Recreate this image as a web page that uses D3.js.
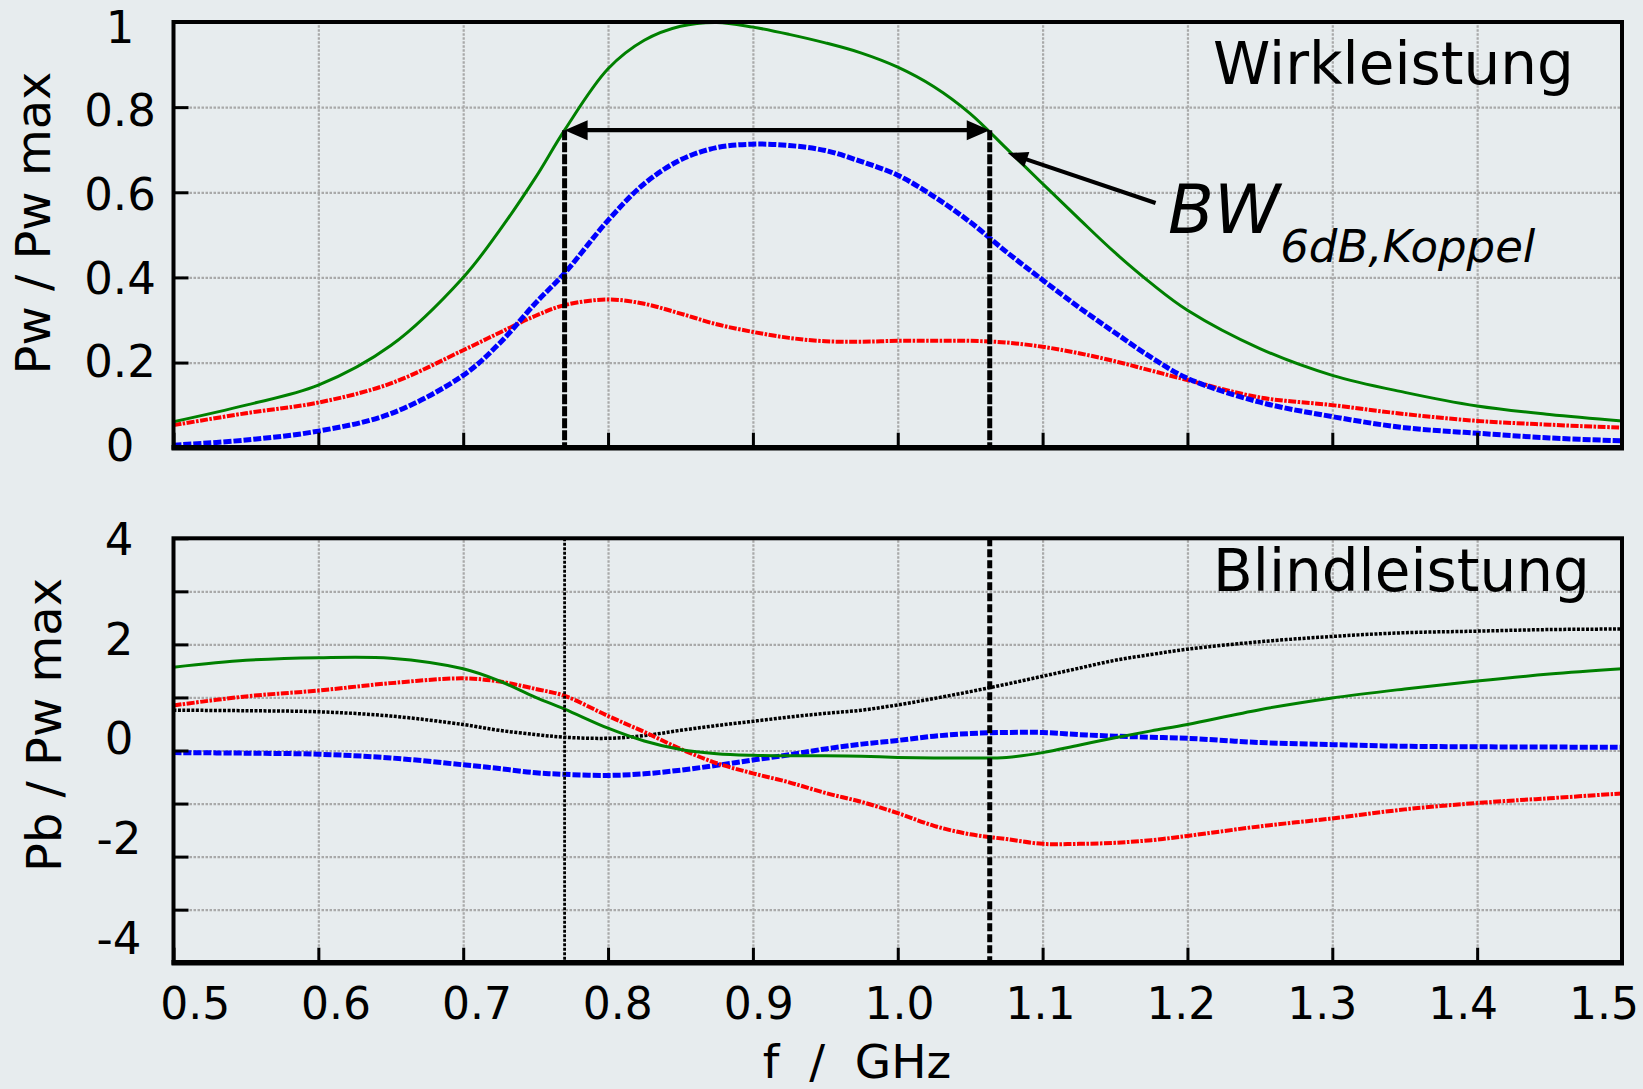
<!DOCTYPE html>
<html><head><meta charset="utf-8">
<script src="https://cdn.jsdelivr.net/npm/d3@7/dist/d3.min.js"></script>
<style>
body{margin:0;background:#e7ecee}
svg{display:block}
text{font-family:"DejaVu Sans",Verdana,sans-serif;fill:#000}
</style></head>
<body><svg id="chart" width="1643" height="1089"></svg>
<script>
// ---------- data ----------
const freq = [0.50,0.55,0.60,0.65,0.70,0.725,0.75,0.77,0.80,0.825,0.85,0.875,0.90,0.925,0.95,0.975,1.00,1.025,1.05,1.075,1.10,1.125,1.15,1.175,1.20,1.25,1.30,1.35,1.40,1.45,1.50];

const pwGreen = [0.061,0.10,0.147,0.24,0.40,0.51,0.635,0.746,0.89,0.957,0.99,0.999,0.988,0.971,0.951,0.927,0.894,0.848,0.785,0.703,0.62,0.538,0.458,0.386,0.323,0.233,0.17,0.13,0.098,0.078,0.063];
const pwBlue  = [0.006,0.018,0.039,0.08,0.17,0.245,0.34,0.41,0.534,0.62,0.676,0.705,0.713,0.71,0.698,0.672,0.64,0.59,0.53,0.46,0.394,0.33,0.27,0.212,0.163,0.107,0.073,0.047,0.034,0.023,0.016];
const pwRed   = [0.053,0.081,0.106,0.151,0.229,0.27,0.31,0.335,0.348,0.338,0.315,0.29,0.272,0.258,0.25,0.249,0.251,0.251,0.251,0.247,0.237,0.222,0.203,0.181,0.159,0.118,0.10,0.079,0.063,0.054,0.047];

const pbGreen = [1.57,1.70,1.75,1.74,1.54,1.31,1.00,0.78,0.42,0.18,0.02,-0.06,-0.09,-0.10,-0.10,-0.11,-0.13,-0.14,-0.14,-0.13,-0.04,0.10,0.24,0.37,0.49,0.77,0.99,1.16,1.31,1.44,1.54];
const pbRed   = [0.85,1.02,1.13,1.27,1.36,1.30,1.16,1.03,0.65,0.35,0.03,-0.24,-0.43,-0.60,-0.80,-0.97,-1.18,-1.42,-1.58,-1.67,-1.76,-1.76,-1.74,-1.69,-1.61,-1.43,-1.28,-1.11,-0.99,-0.90,-0.81];
const pbBlack = [0.76,0.75,0.73,0.65,0.49,0.38,0.30,0.25,0.23,0.28,0.38,0.47,0.55,0.63,0.70,0.76,0.86,0.98,1.11,1.25,1.40,1.55,1.70,1.81,1.91,2.05,2.15,2.22,2.25,2.28,2.29];
const pbBlue  = [-0.04,-0.05,-0.07,-0.14,-0.27,-0.34,-0.42,-0.45,-0.47,-0.44,-0.37,-0.28,-0.18,-0.08,0.03,0.12,0.19,0.27,0.32,0.34,0.34,0.30,0.27,0.25,0.23,0.15,0.11,0.08,0.07,0.065,0.06];

const xTickValues = [0.5,0.6,0.7,0.8,0.9,1.0,1.1,1.2,1.3,1.4,1.5];
const pwTickValues = [0,0.2,0.4,0.6,0.8,1];
const pbTickValues = [-4,-3,-2,-1,0,1,2,3,4];
const pbLabelValues = [-4,-2,0,2,4];

const bwEdges = [0.770, 1.0635];   // 6 dB band edges, GHz
const bwLevel = 0.746;              // Pw level of the band arrow
const annotTip = [1.076, 0.692];
const annotTail = [1.178, 0.575];

const titleTop = "Wirkleistung";
const titleBottom = "Blindleistung";
const yTitleTop = "Pw / Pw max";
const yTitleBottom = "Pb / Pw max";
const xTitle = "f  /  GHz";

// ---------- layout ----------
const svg = d3.select("#chart");
const L = 173.5, R = 1622;
const topP = {t:22, b:447.7};
const botP = {t:538.3, b:962.7};

const x = d3.scaleLinear().domain([0.5,1.5]).range([L,R]);
const xLab = d3.scaleLinear().domain([0.5,1.5]).range([194.7,1603.5]);
const yW = d3.scaleLinear().domain([0,1]).range([topP.b, topP.t]);
const yWLab = d3.scaleLinear().domain([0,1]).range([444,26]);
const yB = d3.scaleLinear().domain([-4,4]).range([botP.b, botP.t]);
const yBLab = d3.scaleLinear().domain([-4,4]).range([937,538.5]);

const gridColor = "#a9a9a9";

function panel(y, yTicks, top, bot) {
  const g = svg.append("g");
  g.append("g").attr("transform",`translate(0,${bot})`)
    .call(d3.axisBottom(x).tickValues(xTickValues.slice(1,-1)).tickSize(-(bot-top)).tickFormat(""))
    .call(s=>s.select(".domain").remove())
    .selectAll("line").attr("stroke",gridColor).attr("stroke-width",2.2).attr("stroke-dasharray","2.5,1.5");
  g.append("g").attr("transform",`translate(${L},0)`)
    .call(d3.axisLeft(y).tickValues(yTicks.slice(1,-1)).tickSize(-(R-L)).tickFormat(""))
    .call(s=>s.select(".domain").remove())
    .selectAll("line").attr("stroke",gridColor).attr("stroke-width",2.2).attr("stroke-dasharray","2.5,1.5");
  return g;
}
function frame(y, yTicks, top, bot) {
  const g = svg.append("g");
  g.append("g").attr("transform",`translate(0,${bot})`)
    .call(d3.axisBottom(x).tickValues(xTickValues).tickSize(-15).tickFormat(""))
    .call(s=>s.select(".domain").remove())
    .selectAll("line").attr("stroke","#000").attr("stroke-width",3);
  g.append("g").attr("transform",`translate(${L},0)`)
    .call(d3.axisLeft(y).tickValues(yTicks).tickSize(-15).tickFormat(""))
    .call(s=>s.select(".domain").remove())
    .selectAll("line").attr("stroke","#000").attr("stroke-width",3);
  g.append("rect").attr("x",L).attr("y",top).attr("width",R-L).attr("height",bot-top)
    .attr("fill","none").attr("stroke","#000").attr("stroke-width",4);
  g.append("line").attr("x1",L-2).attr("x2",R+2).attr("y1",bot).attr("y2",bot)
    .attr("stroke","#000").attr("stroke-width",5.5);
}

function curve(y, vals, color, width, dash) {
  const line = d3.line().x((d,i)=>x(freq[i])).y(d=>y(d)).curve(d3.curveCatmullRom.alpha(0.5));
  svg.append("path").datum(vals).attr("d",line).attr("fill","none")
    .attr("stroke",color).attr("stroke-width",width)
    .attr("stroke-dasharray",dash||null).attr("stroke-linejoin","round");
}

// ---------- top panel ----------
panel(yW, pwTickValues, topP.t, topP.b);
curve(yW, pwRed, "#ff0000", 4, "8,1.5,2.5,1.5");
curve(yW, pwBlue, "#0000ff", 5, "8,2");
curve(yW, pwGreen, "#008000", 3, null);

bwEdges.forEach(f=>{
  svg.append("line").attr("x1",x(f)).attr("x2",x(f)).attr("y1",yW(bwLevel)).attr("y2",yW(0))
    .attr("stroke","#000").attr("stroke-width",5).attr("stroke-dasharray","10,2");
});
(function(){
  const yv = yW(bwLevel), x0 = x(bwEdges[0]), x1 = x(bwEdges[1]);
  const hl = 23, hw = 10;
  svg.append("line").attr("x1",x0+hl-2).attr("x2",x1-hl+2).attr("y1",yv).attr("y2",yv)
    .attr("stroke","#000").attr("stroke-width",4.2);
  svg.append("path").attr("d",`M${x0},${yv}L${x0+hl},${yv-hw}L${x0+hl},${yv+hw}Z`).attr("fill","#000");
  svg.append("path").attr("d",`M${x1},${yv}L${x1-hl},${yv-hw}L${x1-hl},${yv+hw}Z`).attr("fill","#000");
})();
(function(){
  const tx = x(annotTip[0]), ty = yW(annotTip[1]);
  const sx = x(annotTail[0]), sy = yW(annotTail[1]);
  const ang = Math.atan2(ty-sy, tx-sx);
  const hl = 20, hw = 8;
  const bx = tx - hl*Math.cos(ang), by = ty - hl*Math.sin(ang);
  const px = -Math.sin(ang)*hw, py = Math.cos(ang)*hw;
  svg.append("line").attr("x1",sx).attr("y1",sy).attr("x2",bx+2*Math.cos(ang)).attr("y2",by+2*Math.sin(ang))
    .attr("stroke","#000").attr("stroke-width",4.2);
  svg.append("path").attr("d",`M${tx},${ty}L${bx+px},${by+py}L${bx-px},${by-py}Z`).attr("fill","#000");
})();
frame(yW, pwTickValues, topP.t, topP.b);

// ---------- bottom panel ----------
panel(yB, pbTickValues, botP.t, botP.b);
curve(yB, pbBlack, "#000000", 3.5, "3,1.5");
curve(yB, pbBlue, "#0000ff", 5, "8,2");
curve(yB, pbRed, "#ff0000", 4, "8,1.5,2.5,1.5");
curve(yB, pbGreen, "#008000", 3, null);
svg.append("line").attr("x1",x(bwEdges[0])).attr("x2",x(bwEdges[0])).attr("y1",yB(4)).attr("y2",yB(-4))
  .attr("stroke","#000").attr("stroke-width",2.8).attr("stroke-dasharray","3,1.5");
svg.append("line").attr("x1",x(bwEdges[1])).attr("x2",x(bwEdges[1])).attr("y1",yB(4)).attr("y2",yB(-4))
  .attr("stroke","#000").attr("stroke-width",5).attr("stroke-dasharray","8,3");
frame(yB, pbTickValues, botP.t, botP.b);

// ---------- labels ----------
svg.append("g").attr("transform","translate(0,1019)")
  .call(d3.axisBottom(xLab).tickValues(xTickValues).tickSize(0).tickPadding(0).tickFormat(d=>d.toFixed(1)))
  .call(s=>s.select(".domain").remove())
  .selectAll("text").attr("dy",0).attr("font-size",44).attr("font-family","DejaVu Sans").attr("fill","#000");

svg.append("g").attr("transform","translate(120,0)")
  .call(d3.axisRight(yWLab).tickValues(pwTickValues).tickSize(0).tickPadding(0).tickFormat(d=>d===0||d===1?String(d):d.toFixed(1)))
  .call(s=>s.select(".domain").remove())
  .selectAll("text").attr("text-anchor","middle").attr("dy","0.36em").attr("font-size",45).attr("font-family","DejaVu Sans").attr("fill","#000");

svg.append("g").attr("transform","translate(119,0)")
  .call(d3.axisRight(yBLab).tickValues(pbLabelValues).tickSize(0).tickPadding(0).tickFormat(d=>String(d)))
  .call(s=>s.select(".domain").remove())
  .selectAll("text").attr("text-anchor","middle").attr("dy","0.36em").attr("font-size",45).attr("font-family","DejaVu Sans").attr("fill","#000");

svg.append("text").attr("transform","translate(50,223) rotate(-90)").attr("text-anchor","middle")
  .attr("font-size",48).text(yTitleTop);
svg.append("text").attr("transform","translate(61,725) rotate(-90)").attr("text-anchor","middle")
  .attr("font-size",48).text(yTitleBottom);
svg.append("text").attr("x",857).attr("y",1078).attr("text-anchor","middle").attr("font-size",47)
  .style("white-space","pre").attr("xml:space","preserve").text(xTitle);

svg.append("text").attr("x",1213).attr("y",84).attr("font-size",58).text(titleTop);
svg.append("text").attr("x",1213).attr("y",591).attr("font-size",58).text(titleBottom);

const bwText = svg.append("text").attr("x",1168).attr("y",233).attr("font-style","italic");
bwText.append("tspan").attr("font-size",67).text("BW");
bwText.append("tspan").attr("font-size",45).attr("dy",29).text("6dB,Koppel");
</script>
</body></html>
